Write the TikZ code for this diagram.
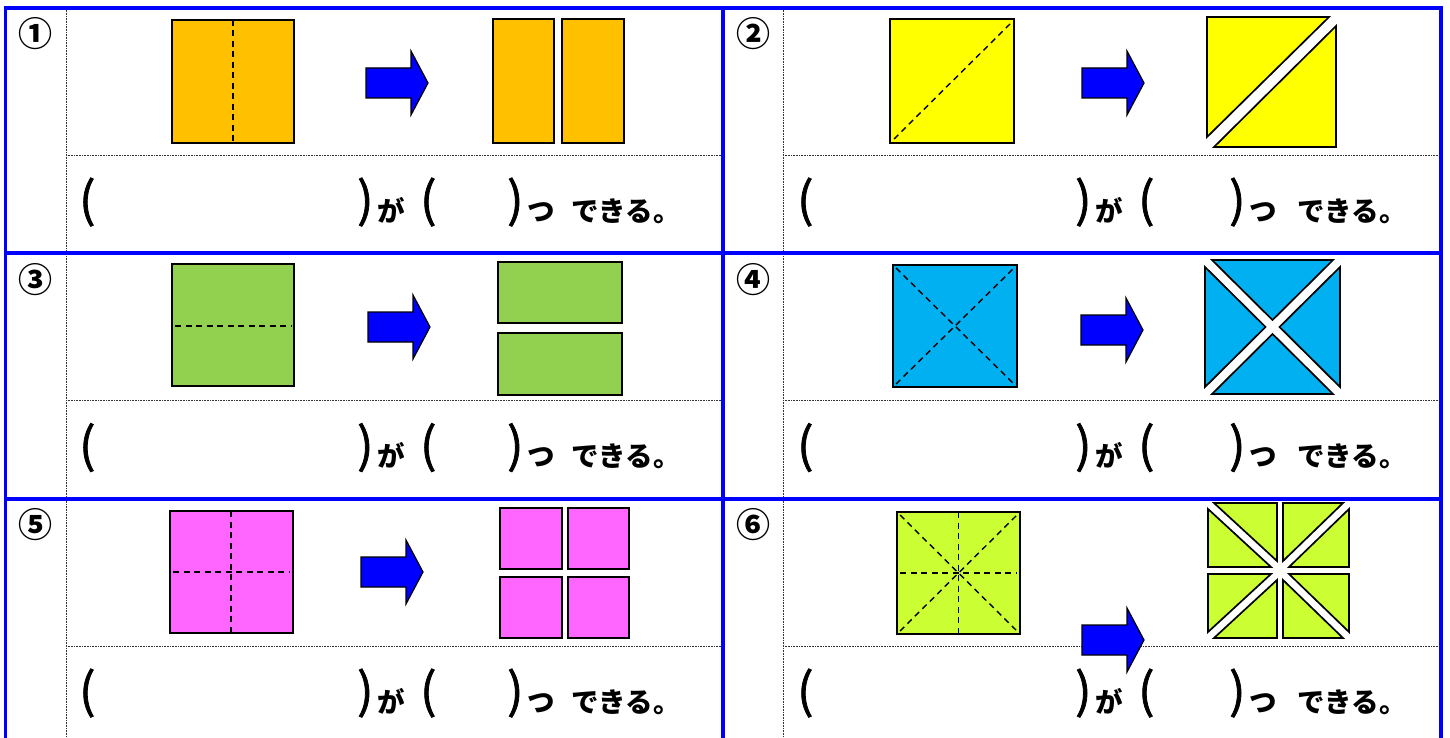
\documentclass[tikz,border=0pt]{standalone}
\usepackage{fontspec}
\newfontfamily\jp{Noto Sans CJK JP}
\newfontfamily\jpparen{Noto Sans CJK JP}[FakeBold=1.6]
\definecolor{sheetorange}{HTML}{FFC000}
\definecolor{sheetyellow}{HTML}{FFFF00}
\definecolor{sheetgreen}{HTML}{92D050}
\definecolor{sheetcyan}{HTML}{00B0F0}
\definecolor{sheetpink}{HTML}{FF66FF}
\definecolor{sheetlime}{HTML}{CCFF33}
\begin{document}
\begin{tikzpicture}[x=1pt,y=-1pt,
  paper/.style={draw=black,line width=1.7pt},
  fold/.style={draw=black,line width=1.4pt,dash pattern=on 6pt off 4.5pt},
  frame/.style={draw=blue,line width=3.9pt},
  guide/.style={draw=black!80,line width=0.8pt,dash pattern=on 0.8pt off 0.8pt},
  num/.style={font=\jp\bfseries\fontsize{34}{34}\selectfont,inner sep=0pt},
  paren/.style={font=\jpparen\fontsize{48}{48}\selectfont,anchor=base west,inner sep=0pt},
  word/.style={font=\jp\bfseries\fontsize{27.5}{27.5}\selectfont,anchor=base west,inner sep=0pt},
  blockarrow/.pic={\draw[fill=blue,draw=black,line width=1.2pt] (0,-15)--(45,-15)--(45,-32)--(62,0)--(45,32)--(45,15)--(0,15)--cycle;}]
\useasboundingbox (0,0) rectangle (1450,738);
\fill[white] (0,0) rectangle (1450,738);
% dotted guide lines
\draw[guide] (66,8)--(66,738);
\draw[guide] (783,8)--(783,738);
\foreach \r in {0,1,2}{
  \draw[guide] (66,{155+245.5*\r})--(723,{155+245.5*\r});
  \draw[guide] (783,{155+245.5*\r})--(1441,{155+245.5*\r});
}
% numbers and answer lines
\foreach \t/\dx/\ex/\r [count=\i] in {①/0/0/0,②/718/8/0,③/0/0/1,④/718/8/1,⑤/0/0/2,⑥/718/8/2}{
  \node[num] (num\i) at ({35+\dx},{34+245.5*\r}) {\t};
  \node[paren] (openA\i) at ({79+\dx},{217+245.5*\r}) {(};
  \node[paren] (closeA\i) at ({357+\dx},{217+245.5*\r}) {)};
  \node[word] (ga\i) at ({377+\dx},{221+245.5*\r}) {が};
  \node[paren] (openB\i) at ({420+\dx},{217+245.5*\r}) {(};
  \node[paren] (closeB\i) at ({507+\dx+\ex/2},{217+245.5*\r}) {)};
  \node[word] (tsu\i) at ({527+\dx+\ex/2},{221+245.5*\r}) {つ};
  \node[word] (dekiru\i) at ({571+\dx+\ex},{221+245.5*\r}) {できる。};
}
% 1
\draw[paper,fill=sheetorange] (172,20) rectangle (294,143);
\draw[fold] (233,20)--(233,143);
\pic at (366,83) {blockarrow};
\draw[paper,fill=sheetorange] (493,19) rectangle (554,143);
\draw[paper,fill=sheetorange] (562,19) rectangle (624,143);
% 2
\draw[paper,fill=sheetyellow] (890,19) rectangle (1014,143);
\draw[fold] (894,139)--(1011,23);
\pic at (1082,83) {blockarrow};
\draw[paper,fill=sheetyellow] (1207,17)--(1329,17)--(1207,137)--cycle;
\draw[paper,fill=sheetyellow] (1336,26)--(1336,147)--(1214,147)--cycle;
% 3
\draw[paper,fill=sheetgreen] (172,264) rectangle (294,386);
\draw[fold] (175,326)--(291,326);
\pic at (368,327) {blockarrow};
\draw[paper,fill=sheetgreen] (498,262) rectangle (622,323);
\draw[paper,fill=sheetgreen] (498,333) rectangle (622,395);
% 4
\draw[paper,fill=sheetcyan] (893,265) rectangle (1017,387);
\draw[fold] (896,268)--(1014,384);
\draw[fold] (896,384)--(1014,268);
\pic at (1081,330) {blockarrow};
\draw[paper,fill=sheetcyan] (1212,260)--(1333,260)--(1272.5,320)--cycle;
\draw[paper,fill=sheetcyan] (1212,394)--(1333,394)--(1272.5,334)--cycle;
\draw[paper,fill=sheetcyan] (1205,267)--(1205,387)--(1265.5,327)--cycle;
\draw[paper,fill=sheetcyan] (1340,267)--(1340,387)--(1279.5,327)--cycle;
% 5
\draw[paper,fill=sheetpink] (170,511) rectangle (293,633);
\draw[fold] (231,511)--(231,633);
\draw[fold] (173,572)--(290,572);
\pic at (361,572) {blockarrow};
\draw[paper,fill=sheetpink] (500,508) rectangle (562,569);
\draw[paper,fill=sheetpink] (568,508) rectangle (629,569);
\draw[paper,fill=sheetpink] (500,577) rectangle (562,638);
\draw[paper,fill=sheetpink] (568,577) rectangle (629,638);
% 6
\draw[paper,fill=sheetlime] (897,512) rectangle (1020,634);
\draw[fold] (958.5,512)--(958.5,634);
\draw[fold] (900,573)--(1017,573);
\draw[fold] (900,515)--(1017,631);
\draw[fold] (900,631)--(1017,515);
\draw[paper,fill=sheetlime] (1214,503)--(1277,503)--(1277,561)--cycle;
\draw[paper,fill=sheetlime] (1208,509)--(1208,567)--(1271,567)--cycle;
\draw[paper,fill=sheetlime] (1283,503)--(1343,503)--(1283,561)--cycle;
\draw[paper,fill=sheetlime] (1349,509)--(1349,567)--(1289,567)--cycle;
\draw[paper,fill=sheetlime] (1208,574)--(1271,574)--(1208,632)--cycle;
\draw[paper,fill=sheetlime] (1277,580)--(1277,638)--(1214,638)--cycle;
\draw[paper,fill=sheetlime] (1289,574)--(1349,574)--(1349,632)--cycle;
\draw[paper,fill=sheetlime] (1283,580)--(1283,638)--(1343,638)--cycle;
\pic at (1082,640) {blockarrow};
% blue frame
\draw[frame] (4,7.7)--(1443,7.7);
\draw[frame] (4,253.3)--(1443,253.3);
\draw[frame] (4,499)--(1443,499);
\draw[frame] (5.5,6)--(5.5,738);
\draw[frame] (723,6)--(723,738);
\draw[frame] (1441,6)--(1441,738);
\end{tikzpicture}
\end{document}
